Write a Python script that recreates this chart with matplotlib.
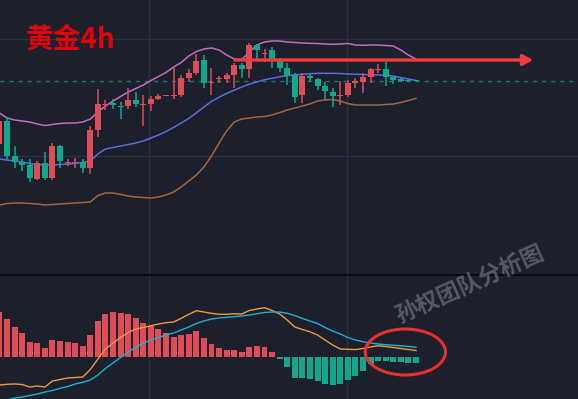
import numpy as np
import matplotlib
matplotlib.use('Agg')
import matplotlib.pyplot as plt
from matplotlib.patches import Ellipse

# ---------------- data (arbitrary price units) ----------------
open_ = [130, 153, 118, 112, 109, 95, 111, 96, 128, 111, 111, 112, 106, 144, 169.5, 171, 168.5, 168,
         174, 169.2, 170, 175, 178.2, 178.2, 179, 196.3, 201.3, 214, 191.5, 194.7, 195, 199, 209, 205,
         229, 219.7, 224, 214, 206.3, 199, 179, 198, 195, 188.3, 181.7, 178.5, 179, 191.3, 192.3, 196.7,
         204.2, 205, 197.3, 195, 193.3, 193.3]
high = [154, 156, 128, 115, 115, 113, 122, 131, 129, 115, 116, 115, 148, 185, 174, 175, 172, 186,
        182, 179, 178, 180, 179, 206, 199, 205, 220, 219, 206, 198.3, 201, 211, 211, 231,
        230, 225, 227.3, 216, 211, 201, 201, 200, 196.3, 192, 186, 193, 194, 196, 201, 206.3,
        210, 212, 198.3, 196.3, 193.5, 193.5]
low = [128, 115, 106, 103, 92, 94, 94, 94, 106, 108, 106, 101, 100, 137, 164, 165, 155, 165,
       167, 148, 163, 174, 178, 175, 177, 192, 199, 186, 179, 191.3, 191, 186, 196, 196,
       214, 212, 206.3, 202, 189, 171, 171.3, 192, 184, 174, 167.3, 169, 177.3, 186, 181, 190.7,
       201, 188.3, 190, 191.7, 192.5, 192.5]
close = [153, 118, 112, 109, 96, 111, 96, 128, 113, 112, 112, 106, 144, 170, 170.5, 169, 167.5, 174,
         170, 170, 175, 178, 178.8, 178.8, 196, 201, 213, 191, 192.3, 195.7, 199, 209, 205, 229,
         224, 220.7, 214, 206.3, 198, 177.3, 198, 196.3, 188.3, 183.3, 178.3, 179.3, 190.7, 193, 196.7, 205,
         205, 197.3, 194, 193.3, 192.7, 192.7]

boll_upper = [161, 156, 154, 153, 152, 150, 148.5, 149.5, 150.5, 151, 151, 152, 155, 162, 168, 173,
              177.5, 182, 185.5, 189, 193.5, 197.5, 201.5, 207, 211.5, 218, 222.5, 225, 226, 224,
              219, 215, 214.5, 222, 229, 232, 233, 233, 232, 231.5, 231, 230.7, 230.5, 230, 229.7,
              230, 230.5, 229, 228.7, 229, 229, 228.5, 228, 224, 219, 215]
boll_mid = [115, 114, 113, 112, 110.5, 109.5, 109, 109, 109.5, 110, 110.5, 111.5, 113, 120, 125, 126.5,
            128, 129.5, 131, 133, 136, 139, 142.5, 146.5, 151, 155.6, 161.2, 167, 172.6, 176.8, 180.6,
            183.8, 187, 189.8, 192, 194.3, 195.7, 197.2, 198.5, 199.2, 199.7, 200.3, 200.7, 200.7,
            200.7, 200.5, 200, 199.7, 199.5, 199.2, 199, 198.7, 198, 196.5, 195, 193.5]
boll_lower = [69, 70.5, 71, 71, 70.5, 70, 69, 69.5, 70, 70.5, 71, 71.5, 72, 78.5, 81, 81, 79.5, 78, 77,
              76.5, 76, 77, 79, 82, 87, 93, 99, 107, 118, 131, 143, 152, 155, 156, 157, 157.5, 159,
              161.5, 164, 166, 168, 170, 173, 174, 174.5, 173, 170.5, 169, 169, 169, 169, 169.5, 170,
              171.5, 173.5, 175.5]

macd_hist = [45, 37.7, 30, 23.7, 15, 14.2, 9, 16.3, 15.8, 14.7, 14, 11, 21.7, 35.7, 43, 45, 44, 43, 39,
             34, 30.8, 27.4, 23.7, 20, 22, 22.8, 25.8, 18.4, 12.7, 9, 6.7, 6.8, 4.5, 10.2, 10.5, 9.7, 5,
             -2, -10.2, -21.3, -21, -22, -24, -27, -28.3, -27.5, -23.3, -19, -13.8, -7, -4, -4, -5,
             -5.6, -6.2, -6.2]
macd_dif = [-28.3, -27.6, -27.3, -27.8, -30.3, -29.3, -30.3, -24.3, -22.8, -21.3, -20.8, -20.3, -12.8,
            -2.3, 7.7, 13.7, 19.2, 24.2, 27.7, 29.2, 31, 32.7, 34, 34.7, 38.4, 42.4, 46, 44.7, 43.4,
            42.4, 42.4, 42.9, 42.7, 46.2, 47.7, 49, 46.2, 42.7, 36.7, 29.7, 27.2, 25, 21.7, 16.7, 11.7,
            7.7, 7.4, 7.2, 8.2, 9.7, 11, 10.2, 9.2, 8.2, 7.2, 6.2]
macd_dea = [-44.8, -43.3, -41.3, -40.3, -38.8, -37.3, -35.3, -33.8, -31.6, -29.8, -27.3, -25.6, -23.3,
            -18.3, -11.8, -6.3, -0.8, 4.7, 9.2, 13.7, 16.7, 19.2, 21.7, 23.7, 26.7, 29.7, 33.2, 35.7,
            37.7, 38.7, 39.4, 40, 40.7, 41.7, 43, 44.2, 44.7, 44.7, 43.4, 41.2, 38.2, 35.7, 33.2, 29.2,
            25.7, 22.7, 19.2, 16.7, 15, 13.7, 12.7, 12, 11.4, 10.9, 10.2, 9.5]

title_text = '黄金4h'
watermark_text = '孙权团队分析图'
arrow_level = 214            # price level of the red target arrow
arrow_from, arrow_to = 31.1, 70.5

# ---------------- style ----------------
BG = '#1c202c'
UP = '#dd4c57'
DOWN = '#10a88c'
GRID = '#2a303d'

plt.rcParams['font.family'] = ['Noto Sans CJK SC', 'DejaVu Sans']

o = np.array(open_); h = np.array(high); l = np.array(low); c = np.array(close)
x = np.arange(len(o))
up = c >= o
cols = np.where(up, UP, DOWN)

fig = plt.figure(figsize=(5.78, 3.99), dpi=100)
fig.patch.set_facecolor(BG)
ax = fig.add_axes([0, 125 / 399, 1, 274 / 399])
axm = fig.add_axes([0, 0, 1, 124 / 399])

XLIM = (0.07, 76.4)
for a in (ax, axm):
    a.set_facecolor(BG)
    a.set_xlim(*XLIM)
    for s in a.spines.values():
        s.set_visible(False)
    a.tick_params(left=False, bottom=False, labelleft=False, labelbottom=False)

# grid
ax.set_xticks([19.75, 45.9])
axm.set_xticks([19.75, 45.9])
ax.set_yticks([118, 235])
axm.set_yticks([])
ax.grid(True, color=GRID, lw=1)
axm.grid(True, axis='x', color=GRID, lw=1)
ax.set_axisbelow(True)
axm.set_axisbelow(True)

# main panel
ax.set_ylim(0, 274)
ax.vlines(x, l, h, colors=cols, lw=1.1, zorder=3)
body_bottom = np.minimum(o, c)
body_h = np.maximum(np.abs(c - o), 0.9)
ax.bar(x, body_h, bottom=body_bottom, width=0.79, color=cols, zorder=4, linewidth=0)

ax.plot(x, boll_upper, color='#c46cc2', lw=1.1, zorder=2)
ax.plot(x, boll_mid, color='#5b6ae0', lw=1.1, zorder=2)
ax.plot(x, boll_lower, color='#a4673c', lw=1.1, zorder=2)

ax.axhline(c[-1], color='#1f7466', lw=1, ls=(0, (3, 3.5)), zorder=1)

ax.annotate('', xy=(arrow_to, arrow_level), xytext=(arrow_from, arrow_level),
            arrowprops=dict(arrowstyle='-|>,head_length=0.6,head_width=0.32', color='#f03c3c',
                            lw=2.4, shrinkA=0, shrinkB=0), zorder=6)

fig.text(26 / 578, 1 - 40 / 399, title_text, color='#e4000c', fontsize=20, fontweight='bold',
         va='center', ha='left', family=['Noto Sans CJK SC', 'DejaVu Sans'])

# MACD panel
axm.set_ylim(-42.3, 81.7)
hist = np.array(macd_hist)
axm.bar(x, hist, width=0.79, color=np.where(hist >= 0, UP, DOWN), linewidth=0, zorder=3)
axm.plot(x, macd_dif, color='#ee9a3c', lw=1.0, zorder=4)
axm.plot(x, macd_dea, color='#22aed0', lw=1.0, zorder=4)

axm.add_patch(Ellipse((53.6, 4.7), 10.6, 46, fill=False, ec='#e8302e', lw=2.2, zorder=6))

# separator
fig.add_artist(plt.Line2D([0, 1], [1 - 274.5 / 399] * 2, color='#05070a', lw=1.2))

fig.text(470 / 578, 1 - 284 / 399, watermark_text, color='#6a6d75', alpha=0.75, fontsize=16.5,
         fontweight='bold', rotation=24, ha='center', va='center')

fig.savefig('out.png', dpi=100, facecolor=BG)
